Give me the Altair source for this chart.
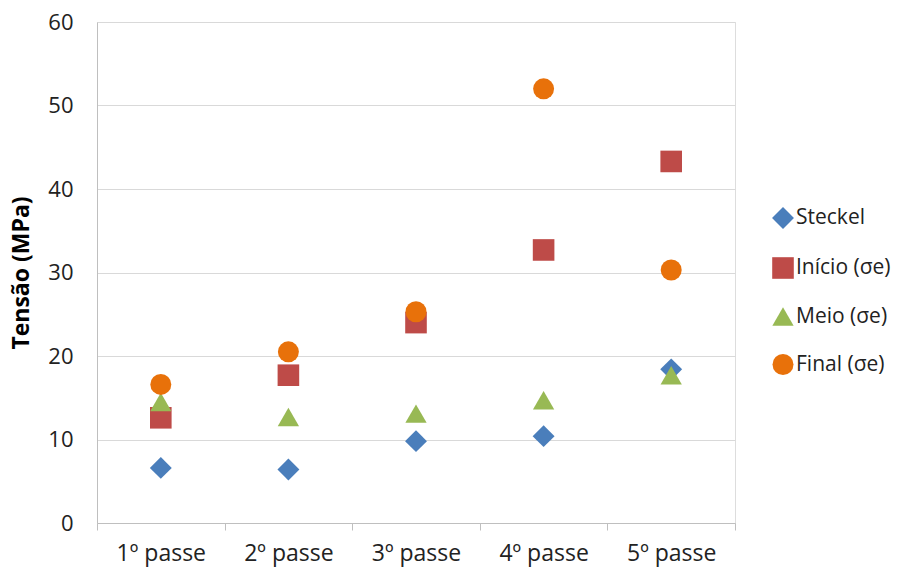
import altair as alt
import pandas as pd

passes = ["1º passe", "2º passe", "3º passe", "4º passe", "5º passe"]
series = ["Steckel", "Início (σe)", "Meio (σe)", "Final (σe)"]

steckel = [6.6, 6.4, 9.8, 10.4, 18.4]
inicio = [12.6, 17.7, 24.0, 32.7, 43.3]
meio = [14.5, 12.7, 13.1, 14.7, 17.7]
final = [16.6, 20.5, 25.3, 52.0, 30.3]

colors = ["#4A7EBB", "#BE4B48", "#98B954", "#E8710A"]
shapes = ["diamond", "square", "triangle-up", "circle"]
sizes = [480, 440, 470, 480]

rows = []
for name, vals in zip(series, [steckel, inicio, meio, final]):
    for p, v in zip(passes, vals):
        rows.append({"passe": p, "serie": name, "tensao": v})
df = pd.DataFrame(rows)

font = "Open Sans"

chart = alt.Chart(df).mark_point(filled=True, opacity=1).encode(
    x=alt.X(
        "passe:N",
        sort=passes,
        scale=alt.Scale(type="band", paddingInner=0, paddingOuter=0),
        axis=alt.Axis(
            title=None,
            labelAngle=0,
            tickBand="extent",
            ticks=True,
            tickSize=7,
            tickColor="#BFBFBF",
            domainColor="#BFBFBF",
            labelFontSize=23,
            labelColor="#222222",
            labelFont=font,
            labelPadding=12,
            grid=False,
        ),
    ),
    y=alt.Y(
        "tensao:Q",
        scale=alt.Scale(domain=[0, 60], nice=False),
        axis=alt.Axis(
            title="Tensão (MPa)",
            titleFont=font,
            titleFontSize=23,
            titleFontWeight="bold",
            titleColor="#000000",
            titlePadding=14,
            values=[0, 10, 20, 30, 40, 50, 60],
            ticks=False,
            labelFontSize=22,
            labelColor="#222222",
            labelFont=font,
            labelPadding=24,
            gridColor="#D9D9D9",
            domainColor="#BFBFBF",
        ),
    ),
    color=alt.Color(
        "serie:N",
        sort=series,
        scale=alt.Scale(domain=series, range=colors),
        legend=alt.Legend(
            title=None,
            orient="none",
            legendX=674,
            legendY=184,
            labelFont=font,
            labelFontSize=21,
            labelColor="#222222",
            symbolSize=190,
            rowPadding=22,
            labelOffset=1,
            symbolOpacity=1,
        ),
    ),
    shape=alt.Shape(
        "serie:N",
        sort=series,
        scale=alt.Scale(domain=series, range=shapes),
    ),
    size=alt.Size(
        "serie:N",
        sort=series,
        scale=alt.Scale(domain=series, range=sizes),
        legend=None,
    ),
).properties(
    width=638,
    height=501,
    autosize=alt.AutoSizeParams(type="none"),
    padding={"left": 97, "top": 22, "right": 171, "bottom": 44},
).configure_view(stroke=None).configure(background="white")

chart.save("out.html", embed_options={"renderer": "svg", "actions": False})
